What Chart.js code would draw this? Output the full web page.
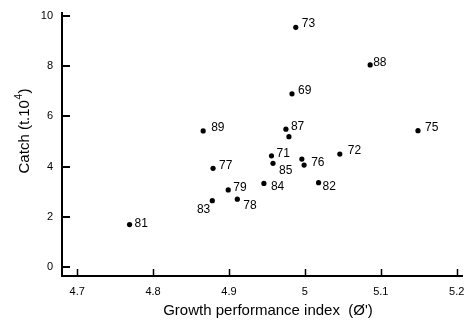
<!DOCTYPE html>
<html>
<head>
<meta charset="utf-8">
<script src="https://cdn.jsdelivr.net/npm/chart.js@4"></script>
<style>
  html, body { margin: 0; padding: 0; background: #fff; }
</style>
</head>
<body>
<canvas id="catchChart" width="468" height="323"></canvas>
<script>
// year labels ("" = unlabelled point)
const years = ["73", "88", "69", "87", "", "75", "89", "71", "85", "", "76", "72", "84", "82", "77", "79", "83", "78", "81"];
const growthIndex = [4.988, 5.086, 4.983, 4.975, 4.979, 5.149, 4.866, 4.956, 4.958, 4.996, 4.999, 5.046, 4.946, 5.018, 4.879, 4.899, 4.878, 4.911, 4.769];
const catchValues = [9.55, 8.05, 6.90, 5.49, 5.19, 5.43, 5.42, 4.43, 4.13, 4.30, 4.06, 4.50, 3.33, 3.36, 3.93, 3.07, 2.64, 2.70, 1.69];
const xTicks = [4.7, 4.8, 4.9, 5, 5.1, 5.2];
const yTicks = [0, 2, 4, 6, 8, 10];

const xTitle = "Growth performance index  (\u00d8')";
const yTitle = ["Catch (t.10", "4", ")"];

// where each year label sits next to its dot [dx, dy, align]
const labelOffsets = {
  "73": [6, -4], "88": [3, -2], "69": [6, -3], "87": [5, -3], "75": [7, -3],
  "89": [8, -3], "71": [5, -2], "85": [6, 7], "76": [7, -2], "72": [8, -3],
  "84": [7, 3], "82": [4, 4], "77": [6, -3], "79": [5, -2], "83": [-2, 9, "right"],
  "78": [6, 6], "81": [5, -1]
};

const FONT = "'Liberation Sans', Arial, Helvetica, sans-serif";

const extras = {
  id: "extras",
  afterDraw(chart) {
    const ctx = chart.ctx;
    const a = chart.chartArea;
    const xs = chart.scales.x, ys = chart.scales.y;
    ctx.save();
    ctx.strokeStyle = "#000";
    // inward tick marks
    ctx.lineWidth = 1.5;
    ctx.beginPath();
    xTicks.forEach((v) => {
      const px = Math.round(xs.getPixelForValue(v)) + 0.5;
      ctx.moveTo(px, a.bottom);
      ctx.lineTo(px, a.bottom - 7);
    });
    ctx.stroke();
    ctx.lineWidth = 2;
    ctx.beginPath();
    yTicks.forEach((v) => {
      const py = Math.round(ys.getPixelForValue(v));
      ctx.moveTo(a.left, py);
      ctx.lineTo(a.left + 8, py);
    });
    ctx.stroke();

    // point labels
    const meta = chart.getDatasetMeta(0);
    ctx.fillStyle = "#000";
    ctx.font = "12px " + FONT;
    ctx.textBaseline = "middle";
    meta.data.forEach((pt, i) => {
      const lab = years[i];
      if (!lab) return;
      const off = labelOffsets[lab] || [5, -2];
      ctx.textAlign = off[2] || "left";
      ctx.fillText(lab, pt.x + off[0], pt.y + off[1]);
    });

    // axis titles
    ctx.font = "15px " + FONT;
    ctx.textAlign = "center";
    ctx.fillText(xTitle, 268, 311);

    ctx.translate(25, 131);
    ctx.rotate(-Math.PI / 2);
    ctx.textAlign = "left";
    const big = "15px " + FONT, small = "10px " + FONT;
    ctx.font = big;
    const w0 = ctx.measureText(yTitle[0]).width;
    const w2 = ctx.measureText(yTitle[2]).width;
    ctx.font = small;
    const w1 = ctx.measureText(yTitle[1]).width + 1;
    let x0 = -(w0 + w1 + w2) / 2;
    ctx.font = big;
    ctx.fillText(yTitle[0], x0, 0);
    ctx.font = small;
    ctx.fillText(yTitle[1], x0 + w0 + 0.5, -6);
    ctx.font = big;
    ctx.fillText(yTitle[2], x0 + w0 + w1, 0);
    ctx.restore();
  },
};

new Chart(document.getElementById("catchChart").getContext("2d"), {
  type: "scatter",
  data: {
    datasets: [
      {
        data: growthIndex.map((x, i) => ({ x: x, y: catchValues[i] })),
        backgroundColor: "#000",
        borderWidth: 0,
        pointRadius: 2.6,
        pointHoverRadius: 2.6,
      },
    ],
  },
  options: {
    responsive: false,
    animation: false,
    events: [],
    layout: { padding: { top: 13, right: 6, left: 0, bottom: 0 } },
    plugins: {
      legend: { display: false },
      tooltip: { enabled: false },
    },
    scales: {
      x: {
        type: "linear",
        min: 4.68,
        max: 5.207,
        afterBuildTicks: (s) => { s.ticks = xTicks.map((v) => ({ value: v })); },
        afterFit: (s) => {
          s.height = 47;
          s.paddingLeft = 0;
          s.paddingRight = 0;
        },
        grid: { display: false, drawTicks: false },
        border: { display: true, color: "#000", width: 2 },
        ticks: {
          color: "#000",
          padding: 9,
          maxRotation: 0,
          font: { size: 11, family: FONT },
          callback: (v) => String(v),
        },
      },
      y: {
        type: "linear",
        min: -0.36,
        max: 10.12,
        afterBuildTicks: (s) => { s.ticks = yTicks.map((v) => ({ value: v })); },
        afterFit: (s) => {
          s.width = 62;
          s.paddingTop = 0;
          s.paddingBottom = 0;
        },
        grid: { display: false, drawTicks: false },
        border: { display: true, color: "#000", width: 2 },
        ticks: {
          color: "#000",
          padding: 9,
          font: { size: 11, family: FONT },
          callback: (v) => String(v),
        },
      },
    },
  },
  plugins: [extras],
});
</script>
</body>
</html>
